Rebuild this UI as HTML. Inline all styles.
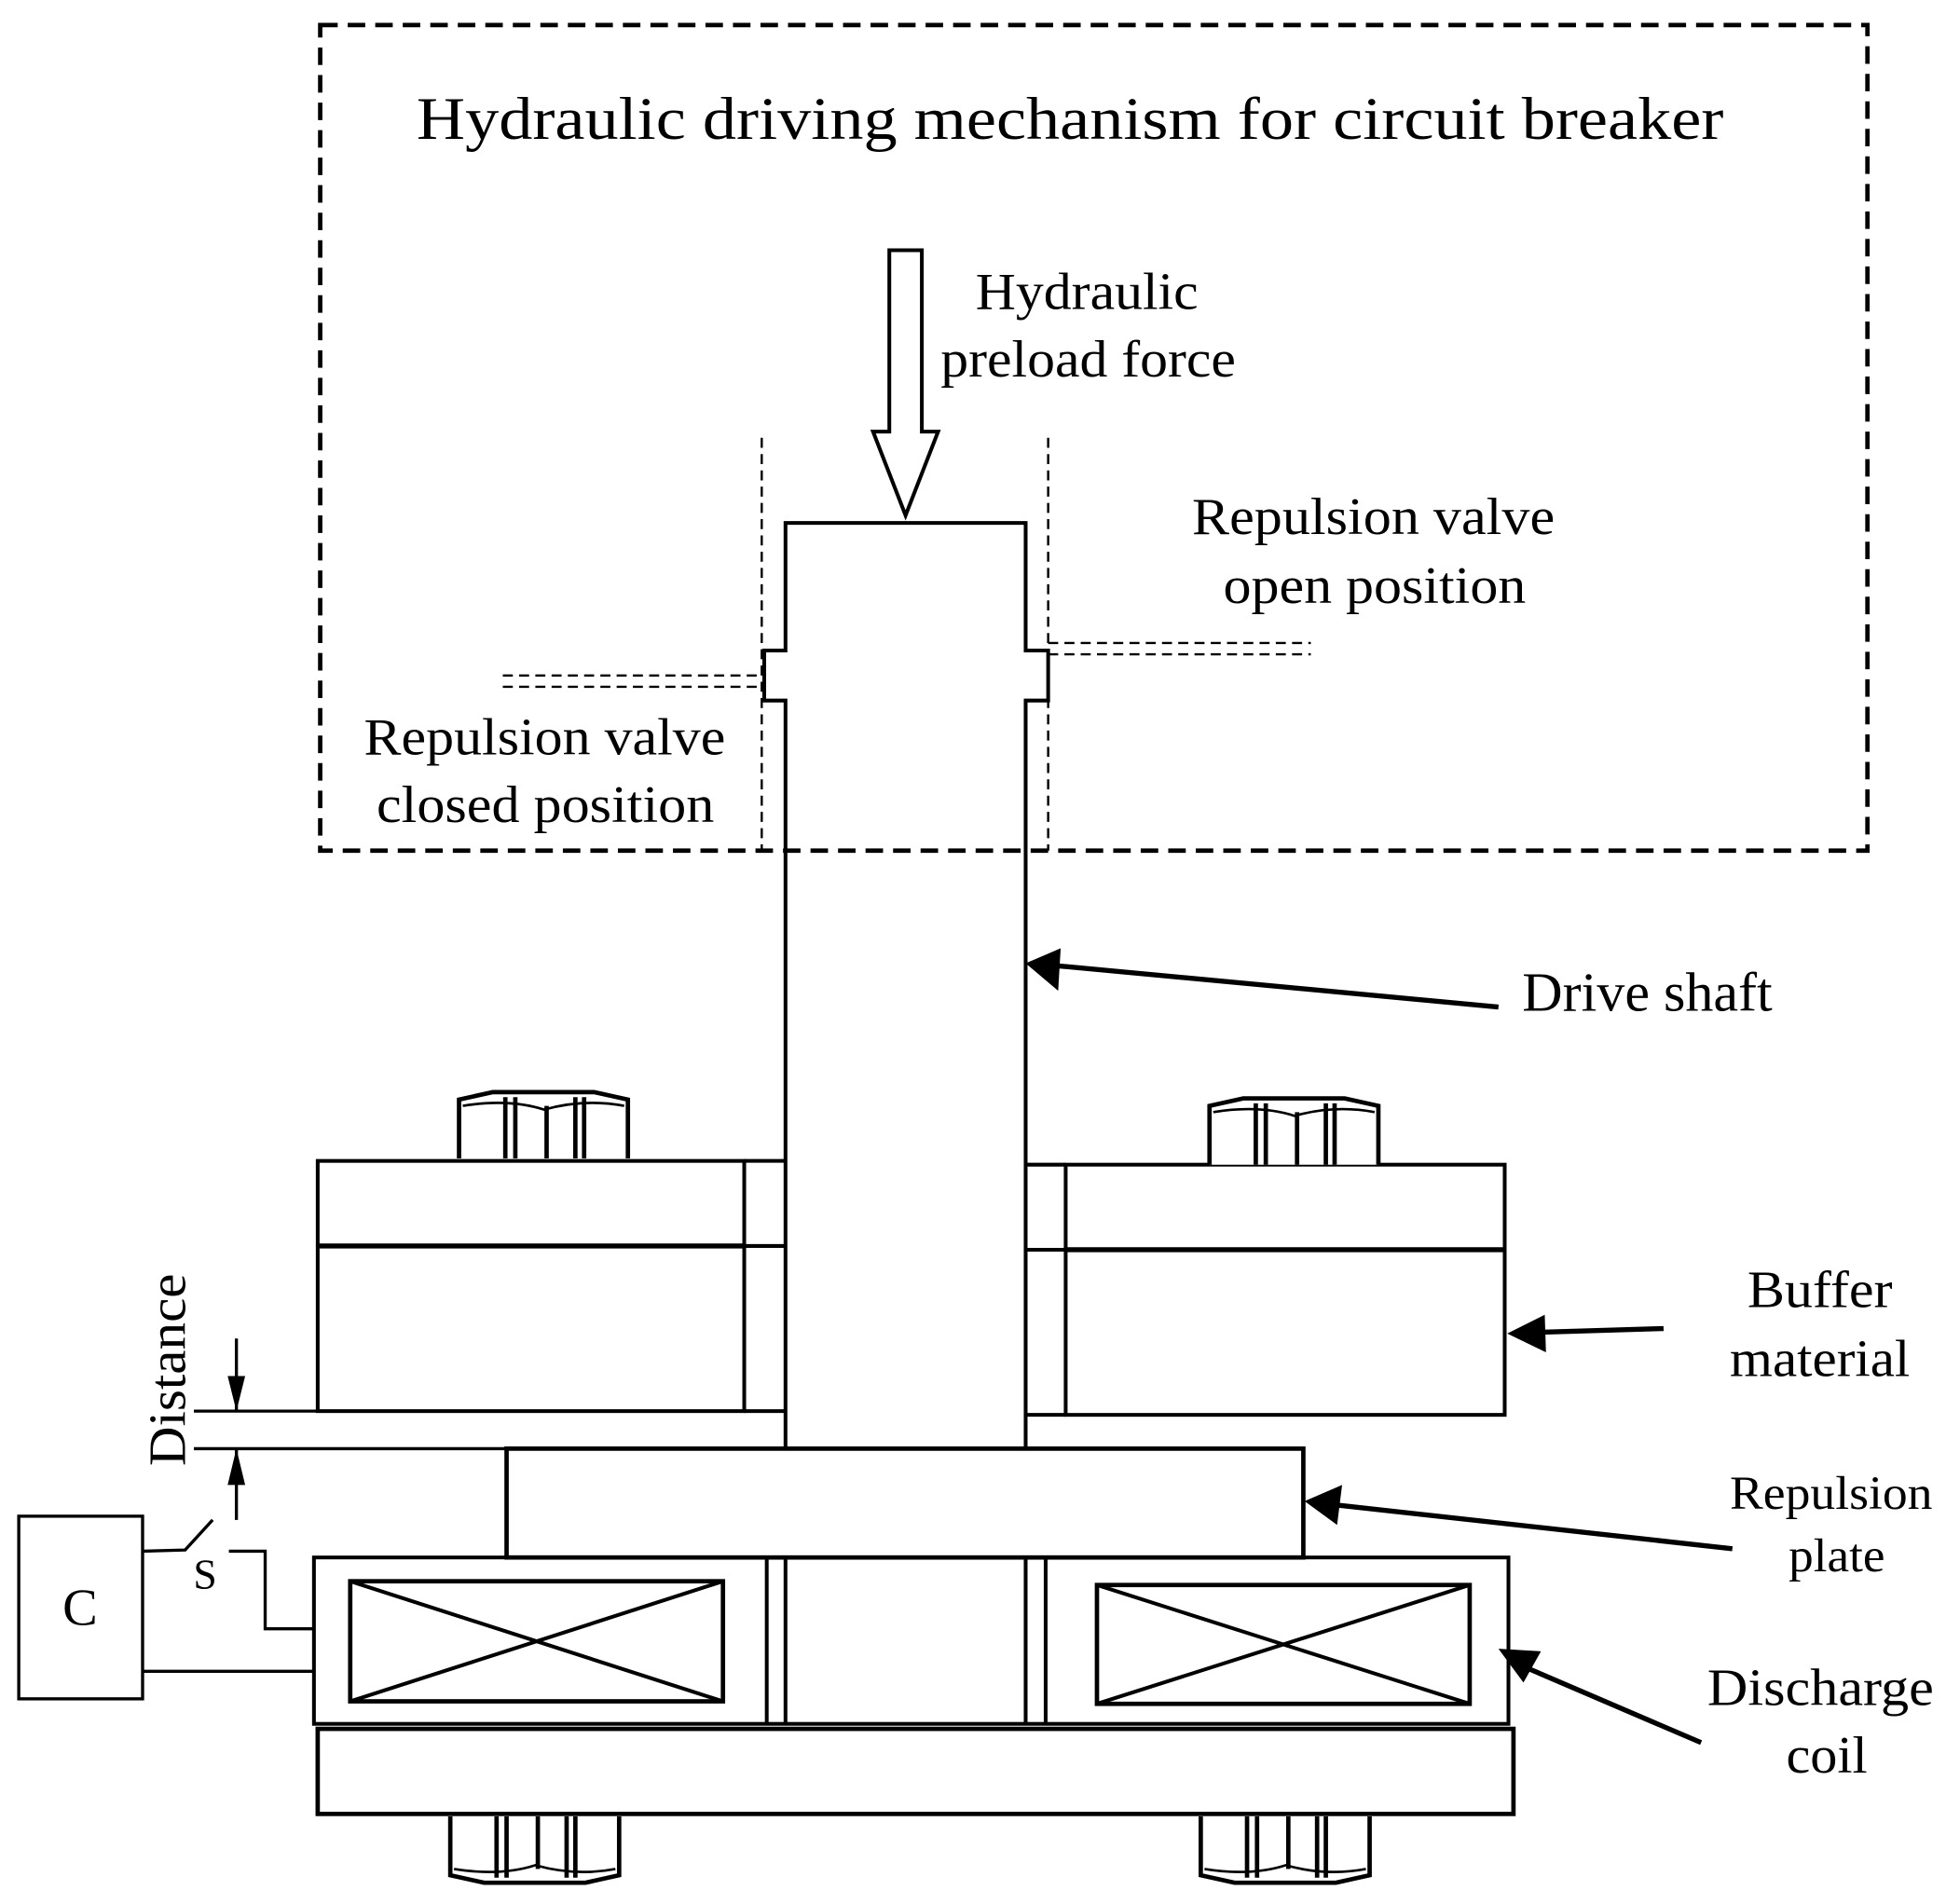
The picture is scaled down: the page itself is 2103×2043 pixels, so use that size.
<!DOCTYPE html>
<html><head><meta charset="utf-8"><style>
html,body{margin:0;padding:0;background:#fff}
svg{display:block}
text{font-family:"Liberation Serif",serif;fill:#000}
</style></head><body>
<svg width="2103" height="2043" viewBox="0 0 1567 1522" preserveAspectRatio="none" xmlns="http://www.w3.org/2000/svg">
<defs>
<g id="bolt" fill="none" stroke="#000" stroke-width="3.5">
<path d="M0,54 V7 L27,1 H108 L135,7 V54" fill="#fff"/>
<path d="M3,12 Q40,6 68,15 Q100,6 132,12" stroke-width="2"/>
<line x1="37" y1="5" x2="37" y2="54"/><line x1="45" y1="5" x2="45" y2="54"/>
<line x1="70" y1="12" x2="70" y2="54"/><line x1="93" y1="5" x2="93" y2="54"/><line x1="100" y1="5" x2="100" y2="54"/>
</g>
</defs>
<rect x="256" y="20" width="1237" height="660" fill="none" stroke="#000" stroke-width="3.5" stroke-dasharray="14 8"/>
<text x="333" y="111" font-size="48" textLength="1045" lengthAdjust="spacingAndGlyphs">Hydraulic driving mechanism for circuit breaker</text>

<path d="M711,200 H737 V345 H750 L724,412 L698,345 H711 Z" fill="#fff" stroke="#000" stroke-width="3"/>
<text x="780" y="247" font-size="42" textLength="178" lengthAdjust="spacingAndGlyphs">Hydraulic</text>
<text x="752" y="301" font-size="42" textLength="236" lengthAdjust="spacingAndGlyphs">preload force</text>

<g stroke="#000" stroke-width="1.8" stroke-dasharray="8 5">
<line x1="609" y1="350" x2="609" y2="680"/><line x1="838" y1="350" x2="838" y2="680"/>
<line x1="402" y1="540" x2="609" y2="540"/><line x1="402" y1="549" x2="609" y2="549"/>
<line x1="838" y1="514" x2="1048" y2="514"/><line x1="838" y1="523" x2="1048" y2="523"/>
</g>
<text x="953" y="427" font-size="42" textLength="290" lengthAdjust="spacingAndGlyphs">Repulsion valve</text>
<text x="978" y="482" font-size="42" textLength="242" lengthAdjust="spacingAndGlyphs">open position</text>
<text x="291" y="603" font-size="42" textLength="289" lengthAdjust="spacingAndGlyphs">Repulsion valve</text>
<text x="301" y="657" font-size="42" textLength="270" lengthAdjust="spacingAndGlyphs">closed position</text>

<path d="M628,1158 V560 H611 V520 H628 V418 H820 V520 H838 V560 H820 V1158" fill="none" stroke="#000" stroke-width="3"/>

<line x1="1198" y1="805" x2="845" y2="772" stroke="#000" stroke-width="4"/>
<path d="M820,770 L848,758 L846,792 Z" fill="#000"/>
<text x="1217" y="808" font-size="44" textLength="200" lengthAdjust="spacingAndGlyphs">Drive shaft</text>

<g fill="none" stroke="#000" stroke-width="3">
<rect x="254" y="928" width="341" height="200"/>
<line x1="254" y1="996" x2="595" y2="996" stroke-width="4"/>
<line x1="595" y1="928" x2="628" y2="928"/><line x1="595" y1="996" x2="628" y2="996"/><line x1="595" y1="1128" x2="628" y2="1128"/>
<rect x="852" y="931" width="351" height="200"/>
<line x1="852" y1="999" x2="1203" y2="999" stroke-width="4"/>
<line x1="820" y1="931" x2="852" y2="931"/><line x1="820" y1="999" x2="852" y2="999"/><line x1="820" y1="1131" x2="852" y2="1131"/>
</g>
<use href="#bolt" x="367" y="872"/>
<use href="#bolt" x="967" y="877"/>

<rect x="405" y="1158" width="637" height="87" fill="none" stroke="#000" stroke-width="3.5"/>
<g fill="none" stroke="#000" stroke-width="3">
<rect x="251" y="1245" width="955" height="133"/>
<line x1="613" y1="1245" x2="613" y2="1378"/><line x1="628" y1="1245" x2="628" y2="1378"/>
<line x1="820" y1="1245" x2="820" y2="1378"/><line x1="836" y1="1245" x2="836" y2="1378"/>
<rect x="280" y="1264" width="298" height="96" stroke-width="3.5"/>
<line x1="280" y1="1264" x2="578" y2="1360"/><line x1="280" y1="1360" x2="578" y2="1264"/>
<rect x="877" y="1267" width="298" height="95" stroke-width="3.5"/>
<line x1="877" y1="1267" x2="1175" y2="1362"/><line x1="877" y1="1362" x2="1175" y2="1267"/>
<rect x="254" y="1382" width="956" height="68" stroke-width="3.5"/>
</g>
<use href="#bolt" transform="translate(360,1506) scale(1,-1)"/>
<use href="#bolt" transform="translate(960,1506) scale(1,-1)"/>

<g stroke="#000" stroke-width="2.5">
<line x1="155" y1="1128" x2="254" y2="1128"/><line x1="155" y1="1158" x2="405" y2="1158"/>
<line x1="189" y1="1070" x2="189" y2="1128"/><line x1="189" y1="1158" x2="189" y2="1215"/>
</g>
<path d="M189,1128 L182,1100 L196,1100 Z M189,1158 L182,1187 L196,1187 Z" fill="#000"/>
<text transform="translate(148,1095) rotate(-90)" font-size="42" text-anchor="middle" textLength="154" lengthAdjust="spacingAndGlyphs">Distance</text>

<g fill="none" stroke="#000" stroke-width="2.5">
<rect x="15" y="1212" width="99" height="146"/>
<polyline points="114,1240 148,1239 170,1215"/>
<polyline points="183,1240 212,1240 212,1302 251,1302"/>
<line x1="114" y1="1336" x2="251" y2="1336"/>
</g>
<text x="64" y="1299" font-size="42" text-anchor="middle">C</text>
<text x="164" y="1270" font-size="34" text-anchor="middle">S</text>

<line x1="1330" y1="1062" x2="1230" y2="1065" stroke="#000" stroke-width="4"/>
<path d="M1205,1066 L1235,1051 L1236,1081 Z" fill="#000"/>
<text x="1397" y="1045" font-size="42" textLength="116" lengthAdjust="spacingAndGlyphs">Buffer</text>
<text x="1383" y="1100" font-size="42" textLength="144" lengthAdjust="spacingAndGlyphs">material</text>

<line x1="1385" y1="1238" x2="1068" y2="1203" stroke="#000" stroke-width="4"/>
<path d="M1043,1200 L1073,1187 L1069,1219 Z" fill="#000"/>
<text x="1383" y="1206" font-size="38" textLength="162" lengthAdjust="spacingAndGlyphs">Repulsion</text>
<text x="1430" y="1256" font-size="38" textLength="77" lengthAdjust="spacingAndGlyphs">plate</text>

<line x1="1360" y1="1393" x2="1220" y2="1333" stroke="#000" stroke-width="4"/>
<path d="M1198,1318 L1232,1320 L1218,1345 Z" fill="#000"/>
<text x="1365" y="1363" font-size="42" textLength="181" lengthAdjust="spacingAndGlyphs">Discharge</text>
<text x="1428" y="1417" font-size="42" textLength="65" lengthAdjust="spacingAndGlyphs">coil</text>
</svg>
</body></html>
